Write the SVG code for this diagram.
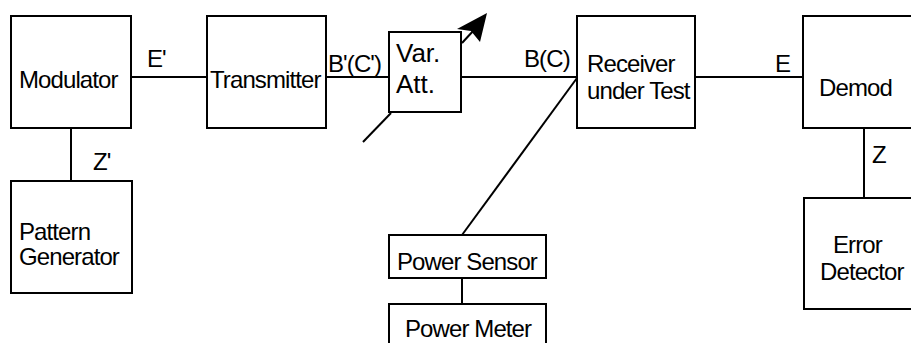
<svg xmlns="http://www.w3.org/2000/svg" width="911" height="343" viewBox="0 0 911 343">
<style>
.box{fill:#fff;stroke:#000;stroke-width:2}
.ln{fill:none;stroke:#000;stroke-width:2}
text{font-family:"Liberation Sans",Arial,sans-serif;font-size:24px;letter-spacing:-0.9px;fill:#000}
.big{font-size:26px;letter-spacing:0}
</style>
<rect width="911" height="343" fill="#fff"/>
<g id="connectors">
<line class="ln" x1="130" y1="77" x2="207" y2="77"/>
<line class="ln" x1="326" y1="77" x2="389" y2="77"/>
<line class="ln" x1="461" y1="77" x2="577" y2="77"/>
<line class="ln" x1="695" y1="77" x2="803" y2="77"/>
<line class="ln" x1="71" y1="128" x2="71" y2="181"/>
<line class="ln" x1="864" y1="128" x2="864" y2="198"/>
<line class="ln" x1="577" y1="78" x2="462" y2="235"/>
<line class="ln" x1="462" y1="278" x2="462" y2="304"/>
<text x="147" y="67">E'</text>
<text x="93" y="170">Z'</text>
<text x="328" y="72">B'(C')</text>
<text x="524" y="67">B(C)</text>
<text x="775" y="72">E</text>
<text x="872" y="163">Z</text>
</g>
<g id="modulator"><rect class="box" x="11" y="16" width="120" height="112"/><text x="19" y="88">Modulator</text></g>
<g id="transmitter"><rect class="box" x="207" y="16" width="119" height="112"/><text x="210" y="88">Transmitter</text></g>
<g id="varatt">
<rect class="box" x="389" y="32" width="72" height="80"/>
<text class="big" x="396" y="62">Var.</text><text class="big" x="396" y="93">Att.</text>
<line class="ln" x1="363" y1="142" x2="391" y2="113"/>
<line class="ln" x1="462" y1="43" x2="474" y2="30"/>
<polygon points="487,13 457,29 471,31 480,42" fill="#000"/>
</g>
<g id="receiver"><rect class="box" x="577" y="16" width="118" height="112"/><text x="587" y="72">Receiver</text><text x="587" y="99">under Test</text></g>
<g id="demod"><rect class="box" x="803" y="16" width="120" height="112"/><text x="819" y="96">Demod</text></g>
<g id="patterngen"><rect class="box" x="11" y="181" width="121" height="112"/><text x="19" y="240">Pattern</text><text x="19" y="265">Generator</text></g>
<g id="errordet"><rect class="box" x="804" y="198" width="120" height="111"/><text x="833" y="253">Error</text><text x="820" y="280">Detector</text></g>
<g id="powersensor"><rect class="box" x="389" y="235" width="157" height="43"/><text x="397" y="270">Power Sensor</text></g>
<g id="powermeter"><rect class="box" x="389" y="304" width="157" height="50"/><text x="405" y="337">Power Meter</text></g>
</svg>
